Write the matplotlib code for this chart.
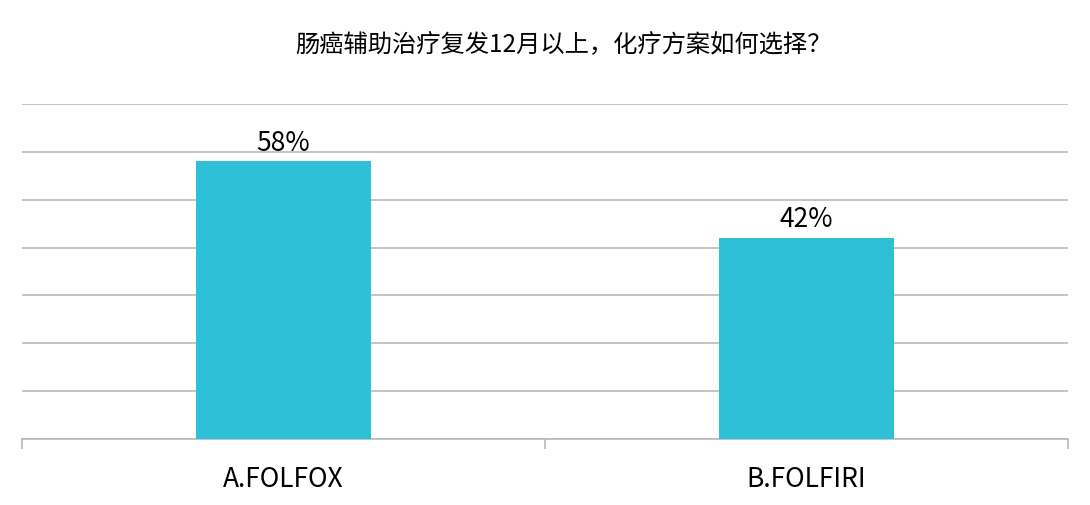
import matplotlib
matplotlib.use("Agg")
from matplotlib import pyplot as plt
import numpy as np

plt.rcParams['font.family'] = ['Noto Sans CJK SC', 'DejaVu Sans']

title = "肠癌辅助治疗复发12月以上，化疗方案如何选择？"
categories = ["A.FOLFOX", "B.FOLFIRI"]
values = [0.58, 0.42]
labels = ["58%", "42%"]

fig = plt.figure(figsize=(10.9, 5.06), dpi=100)
ax = fig.add_axes([22/1090, 1 - 440/506, 1046/1090, 335/506])

x = np.arange(len(categories))
bars = ax.bar(x, values, width=0.333, color="#2EC0D6", zorder=3)
for b, t in zip(bars, labels):
    ax.annotate(t, (b.get_x() + b.get_width()/2, b.get_height()),
                xytext=(0, 4), textcoords="offset points",
                ha="center", va="bottom", fontsize=19)

ax.set_xlim(-0.5, len(categories) - 0.5)
ax.set_ylim(0, 0.7)
ax.set_yticks(np.arange(0, 0.71, 0.1))
ax.yaxis.grid(True, color="#BABABA", linewidth=1.2)
ax.tick_params(axis="y", length=0, labelleft=False)

ax.set_xticks(x)
ax.set_xticklabels(categories, fontsize=19)
ax.set_xticks(np.arange(-0.5, len(categories), 1), minor=True)
ax.tick_params(axis="x", which="major", length=0, pad=19)
ax.tick_params(axis="x", which="minor", length=7, color="#BABABA", width=1.2)

for s in ["top", "left", "right"]:
    ax.spines[s].set_visible(False)
ax.spines["bottom"].set_color("#BABABA")
ax.spines["bottom"].set_linewidth(1.2)

fig.text(563/1090, 1 - 45/506, title, ha="center", va="center", fontsize=17.5)

fig.savefig("out.png", dpi=100, facecolor="white")
